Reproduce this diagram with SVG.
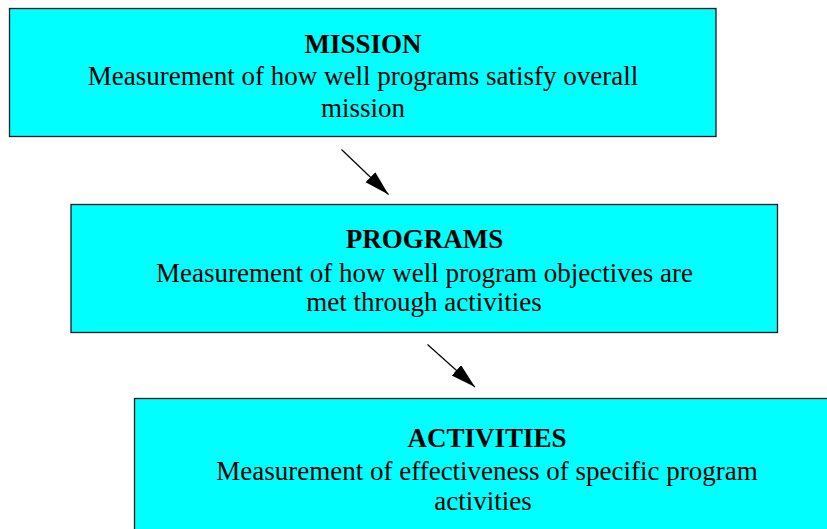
<svg xmlns="http://www.w3.org/2000/svg" width="827" height="529" viewBox="0 0 827 529">
  <style>
    .box { fill: #00FFFF; stroke: #1a1a1a; stroke-width: 1.3; }
    .title { font-family: "Liberation Serif", "Times New Roman", serif; font-size: 27px; font-weight: bold; fill: #000; text-anchor: middle; }
    .desc { font-family: "Liberation Serif", "Times New Roman", serif; font-size: 27px; fill: #000; text-anchor: middle; }
    .link { stroke: #000; stroke-width: 1.2; fill: none; }
  </style>
  <defs>
    <marker id="arrowhead" markerUnits="userSpaceOnUse" markerWidth="26" markerHeight="16" refX="25" refY="7" orient="auto">
      <path d="M0,0 L25,7 L0,14 Z" fill="#000"/>
    </marker>
  </defs>
  <rect width="827" height="529" fill="#fff"/>

  <g id="mission">
    <rect class="box" x="9.5" y="8.5" width="706.5" height="128"/>
    <text class="title" x="363" y="52.5">MISSION</text>
    <text class="desc" x="363" y="85">Measurement of how well programs satisfy overall</text>
    <text class="desc" x="363" y="116.5">mission</text>
  </g>

  <g id="programs">
    <rect class="box" x="71" y="204.5" width="706.5" height="128"/>
    <text class="title" x="424.5" y="247.5">PROGRAMS</text>
    <text class="desc" x="424.5" y="282">Measurement of how well program objectives are</text>
    <text class="desc" x="424" y="311">met through activities</text>
  </g>

  <g id="activities">
    <rect class="box" x="134.5" y="398.5" width="706.5" height="140"/>
    <text class="title" x="487" y="447">ACTIVITIES</text>
    <text class="desc" x="487" y="480">Measurement of effectiveness of specific program</text>
    <text class="desc" x="483" y="510">activities</text>
  </g>

  <g id="connectors">
    <line class="link" x1="341.5" y1="149.5" x2="388.5" y2="194.5" marker-end="url(#arrowhead)"/>
    <line class="link" x1="427.5" y1="344.5" x2="475" y2="387" marker-end="url(#arrowhead)"/>
  </g>
</svg>
